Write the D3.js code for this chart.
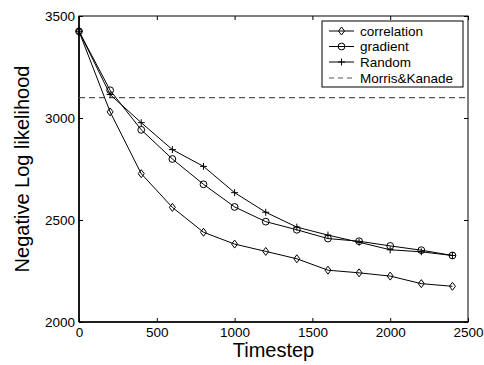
<!DOCTYPE html>
<html><head><meta charset="utf-8">
<script src="https://cdn.jsdelivr.net/npm/d3@7"></script>
<style>body{margin:0;background:#fff}svg{display:block}text{font-family:"Liberation Sans",Arial,sans-serif;fill:#000}</style>
</head><body><svg id="c" width="484" height="365"></svg>
<script>
const timesteps = [0,200,400,600,800,1000,1200,1400,1600,1800,2000,2200,2400];
const correlation = [3425,3030,2727,2562,2440,2382,2346,2310,2254,2241,2225,2188,2175];
const gradient = [3425,3136,2942,2799,2675,2564,2492,2452,2409,2396,2373,2352,2326];
const random = [3425,3115,2977,2845,2763,2634,2538,2465,2426,2391,2354,2344,2326];
const morrisKanade = 3100;
const xTicks = [0,500,1000,1500,2000,2500];
const yTicks = [2000,2500,3000,3500];
const seriesNames = ["correlation","gradient","Random","Morris&Kanade"];

const svg = d3.select("#c");
const L=79,R=468,T=16,B=322;
const x = d3.scaleLinear().domain([0,2500]).range([L,R]);
const y = d3.scaleLinear().domain([2000,3500]).range([B,T]);
const fmt = d3.format("d");

// frame
svg.append("rect").attr("x",L).attr("y",T).attr("width",R-L).attr("height",B-T)
  .attr("fill","none").attr("stroke","#000").attr("stroke-width",1);
svg.append("line").attr("x1",L).attr("x2",L).attr("y1",T).attr("y2",B).attr("stroke","#000").attr("stroke-width",1.6);
svg.append("line").attr("x1",L).attr("x2",R).attr("y1",B).attr("y2",B).attr("stroke","#000").attr("stroke-width",1.6);

// axes (inward ticks)
const fs = "13.5px";
const xa = svg.append("g").attr("transform",`translate(0,${B})`)
  .call(d3.axisBottom(x).tickValues(xTicks).tickSize(-4).tickPadding(5).tickFormat(fmt));
const xt = svg.append("g").attr("transform",`translate(0,${T})`)
  .call(d3.axisTop(x).tickValues(xTicks).tickSize(-4).tickFormat(""));
const ya = svg.append("g").attr("transform",`translate(${L},0)`)
  .call(d3.axisLeft(y).tickValues(yTicks).tickSize(-4).tickPadding(4).tickFormat(fmt));
const yr = svg.append("g").attr("transform",`translate(${R},0)`)
  .call(d3.axisRight(y).tickValues(yTicks).tickSize(-4).tickFormat(""));
[xa,xt,ya,yr].forEach(g=>{g.select(".domain").remove();g.selectAll("line").attr("stroke","#000");
  g.selectAll("text").attr("font-size",fs).attr("font-family","Liberation Sans, Arial, sans-serif");});

// axis titles
svg.append("text").attr("x",(L+R)/2).attr("y",357).attr("text-anchor","middle").attr("font-size","20px").text("Timestep");
svg.append("text").attr("transform",`translate(29,${(T+B)/2}) rotate(-90)`).attr("text-anchor","middle").attr("font-size","20px").text("Negative Log likelihood");

// dashed line
svg.append("line").attr("x1",L).attr("x2",R).attr("y1",y(morrisKanade)).attr("y2",y(morrisKanade))
  .attr("stroke","#555").attr("stroke-width",1.2).attr("stroke-dasharray","6,4");

const line = d3.line().x((d,i)=>x(timesteps[i])).y(d=>y(d));
const g = svg.append("g");
function marker(sel, type, cx, cy){
  if(type==="diamond") sel.append("path").attr("d",`M${cx},${cy-4}L${cx+3},${cy}L${cx},${cy+4}L${cx-3},${cy}Z`).attr("fill","none").attr("stroke","#000").attr("stroke-width",1);
  else if(type==="circle") sel.append("circle").attr("cx",cx).attr("cy",cy).attr("r",3.4).attr("fill","none").attr("stroke","#000").attr("stroke-width",1);
  else sel.append("path").attr("d",`M${cx-3.5},${cy}H${cx+3.5}M${cx},${cy-3.5}V${cy+3.5}`).attr("stroke","#000").attr("stroke-width",1);
}
const series = [[correlation,"diamond"],[gradient,"circle"],[random,"plus"]];
series.forEach(([vals,type])=>{
  g.append("path").attr("d",line(vals)).attr("fill","none").attr("stroke","#000").attr("stroke-width",1);
  vals.forEach((v,i)=>marker(g,type,x(timesteps[i]),y(v)));
});

// legend
const lg = svg.append("g");
lg.append("rect").attr("x",322).attr("y",21).attr("width",141).attr("height",66).attr("fill","#fff").attr("stroke","#000").attr("stroke-width",1);
const rows=[31,46.5,62,78];
seriesNames.forEach((n,i)=>{
  const yy=rows[i];
  const ln = lg.append("line").attr("x1",329).attr("x2",354).attr("y1",yy).attr("y2",yy).attr("stroke",i===3?"#555":"#000").attr("stroke-width",1);
  if(i===3) ln.attr("stroke-dasharray","5,4").attr("stroke-width",1.2);
  else marker(lg,series[i][1],341.5,yy);
  lg.append("text").attr("x",360).attr("y",yy+4.7).attr("font-size",fs).text(n);
});
</script></body></html>
